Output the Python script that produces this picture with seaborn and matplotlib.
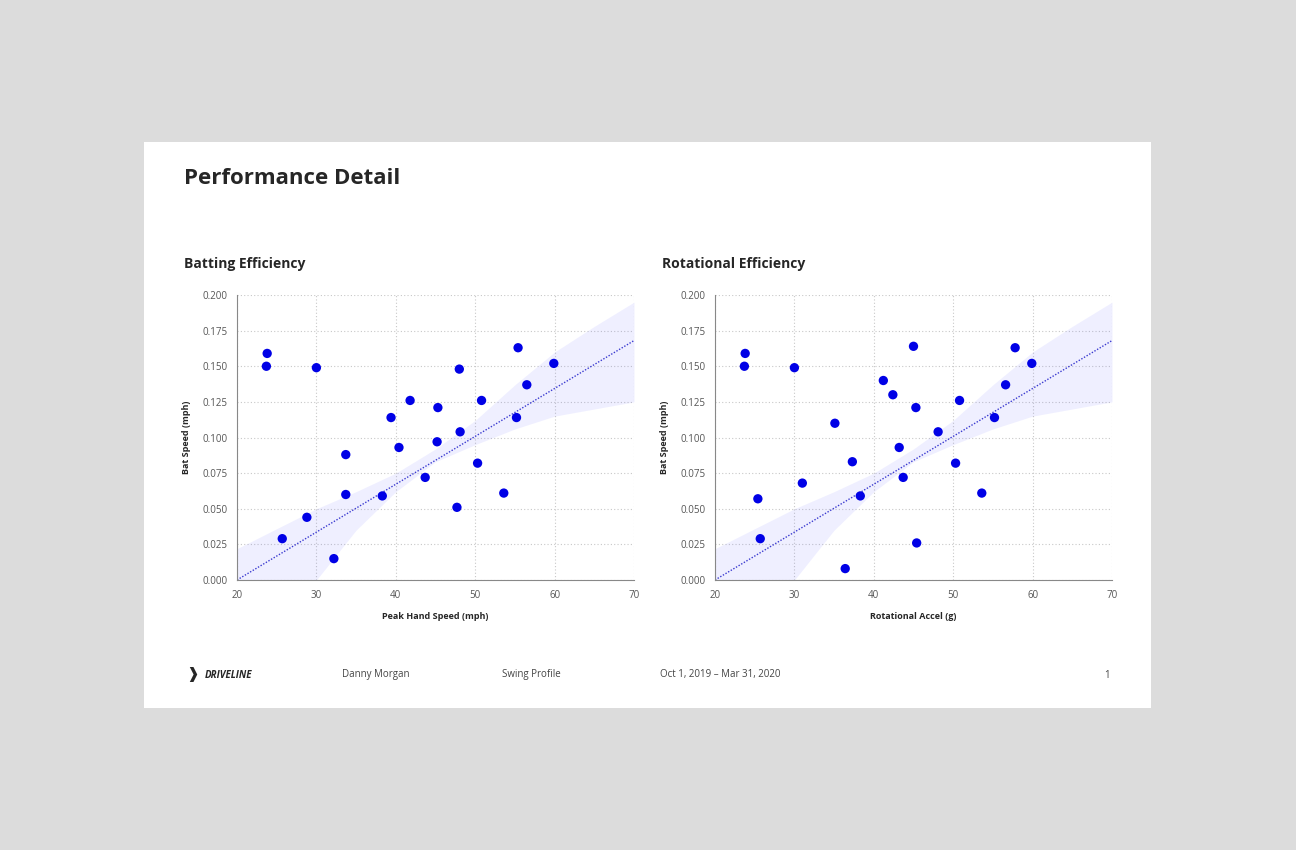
import matplotlib
matplotlib.use("Agg")
import matplotlib.pyplot as plt
import seaborn as sns
import numpy as np
import pandas as pd

# ---- data ----
hand_x = [23.7, 23.8, 30.0, 25.7, 28.8, 32.2, 33.7, 33.7, 38.3, 39.4, 40.4, 41.8, 43.7,
          45.3, 45.2, 47.7, 48.0, 48.1, 50.3, 50.8, 53.6, 55.2, 55.4, 56.5, 59.9]
hand_y = [0.150, 0.159, 0.149, 0.029, 0.044, 0.015, 0.088, 0.060, 0.059, 0.114, 0.093, 0.126, 0.072,
          0.121, 0.097, 0.051, 0.148, 0.104, 0.082, 0.126, 0.061, 0.114, 0.163, 0.137, 0.152]
rot_x = [23.7, 23.8, 30.0, 25.4, 25.7, 31.0, 35.1, 36.4, 37.3, 38.3, 41.2, 42.4, 43.2,
         43.7, 45.0, 45.3, 45.4, 48.1, 50.3, 50.8, 53.6, 55.2, 56.6, 57.8, 59.9]
rot_y = [0.150, 0.159, 0.149, 0.057, 0.029, 0.068, 0.110, 0.008, 0.083, 0.059, 0.140, 0.130, 0.093,
         0.072, 0.164, 0.121, 0.026, 0.104, 0.082, 0.126, 0.061, 0.114, 0.137, 0.163, 0.152]
# fitted trend line and confidence band
fit_x = [20, 70]
fit_y = [0.0, 0.168]
band_x = [20, 25, 30, 35, 40, 45, 50, 55, 60, 65, 70]
band_lo = [-0.02, -0.01, 0.0, 0.035, 0.062, 0.083, 0.095, 0.106, 0.115, 0.120, 0.125]
band_hi = [0.022, 0.036, 0.050, 0.062, 0.075, 0.092, 0.112, 0.137, 0.160, 0.178, 0.195]

sns.set_style("white")
plt.rcParams['font.family'] = ['Open Sans', 'DejaVu Sans']

W, H = 1296, 850
fig = plt.figure(figsize=(W / 100, H / 100), dpi=100, facecolor="#dcdcdc")
card = fig.add_axes([144 / W, 1 - 708 / H, (1151 - 144) / W, (708 - 142) / H])
card.set_facecolor("white"); card.set_xticks([]); card.set_yticks([])
for s in card.spines.values():
    s.set_visible(False)

fig.text(184 / W, 1 - 179 / H, "Performance Detail", fontsize=16, fontweight="bold", va="center")

panels = [
    (237, "Batting Efficiency", "Peak Hand Speed (mph)", hand_x, hand_y),
    (715, "Rotational Efficiency", "Rotational Accel (g)", rot_x, rot_y),
]
for left, title, xlabel, xs, ys in panels:
    ax = fig.add_axes([left / W, 1 - 580 / H, 397 / W, 285 / H])
    fig.text((left - 53) / W, 1 - 264 / H, title, fontsize=10, fontweight="bold", va="center")
    ax.fill_between(band_x, band_lo, band_hi, color="#6666ff", alpha=0.1, lw=0)
    sns.lineplot(x=fit_x, y=fit_y, ax=ax, color="#3a3ad0", lw=1, ls=(0, (1, 1.2)))
    sns.scatterplot(x=xs, y=ys, ax=ax, color="#0000e6", s=45, edgecolor="none", zorder=3)
    ax.set_xlim(20, 70); ax.set_ylim(0, 0.2)
    ax.set_xticks([20, 30, 40, 50, 60, 70])
    ax.set_yticks(np.arange(0, 0.201, 0.025))
    ax.set_yticklabels([f"{v:.3f}" for v in np.arange(0, 0.201, 0.025)])
    ax.grid(True, color="#c8c8c8", ls=(0, (1, 2)), lw=0.8)
    for s in ["top", "right"]:
        ax.spines[s].set_visible(False)
    for s in ["left", "bottom"]:
        ax.spines[s].set_color("#888888"); ax.spines[s].set_linewidth(0.8)
    ax.tick_params(axis="both", labelsize=7, colors="#555555", length=4, width=0.6, pad=3)
    ax.tick_params(axis="both", labelcolor="#555555")
    ax.set_xlabel(xlabel, fontsize=6.5, fontweight="bold", labelpad=8)
    ax.set_ylabel("Bat Speed (mph)", fontsize=6.5, fontweight="bold", labelpad=8)

fy = 1 - 675 / H
fig.text(205 / W, fy, "DRIVELINE", fontsize=7, fontweight="bold", style="italic", va="center")
fig.text(186 / W, fy, "\u2771", fontsize=11, fontweight="bold", va="center")
fig.text(342 / W, fy, "Danny Morgan", fontsize=7, color="#444444", va="center")
fig.text(502 / W, fy, "Swing Profile", fontsize=7, color="#444444", va="center")
fig.text(660 / W, fy, "Oct 1, 2019 \u2013 Mar 31, 2020", fontsize=7, color="#444444", va="center")
fig.text(1110 / W, fy, "1", fontsize=7, color="#444444", va="center", ha="right")

fig.savefig("out.png", dpi=100, facecolor=fig.get_facecolor())
